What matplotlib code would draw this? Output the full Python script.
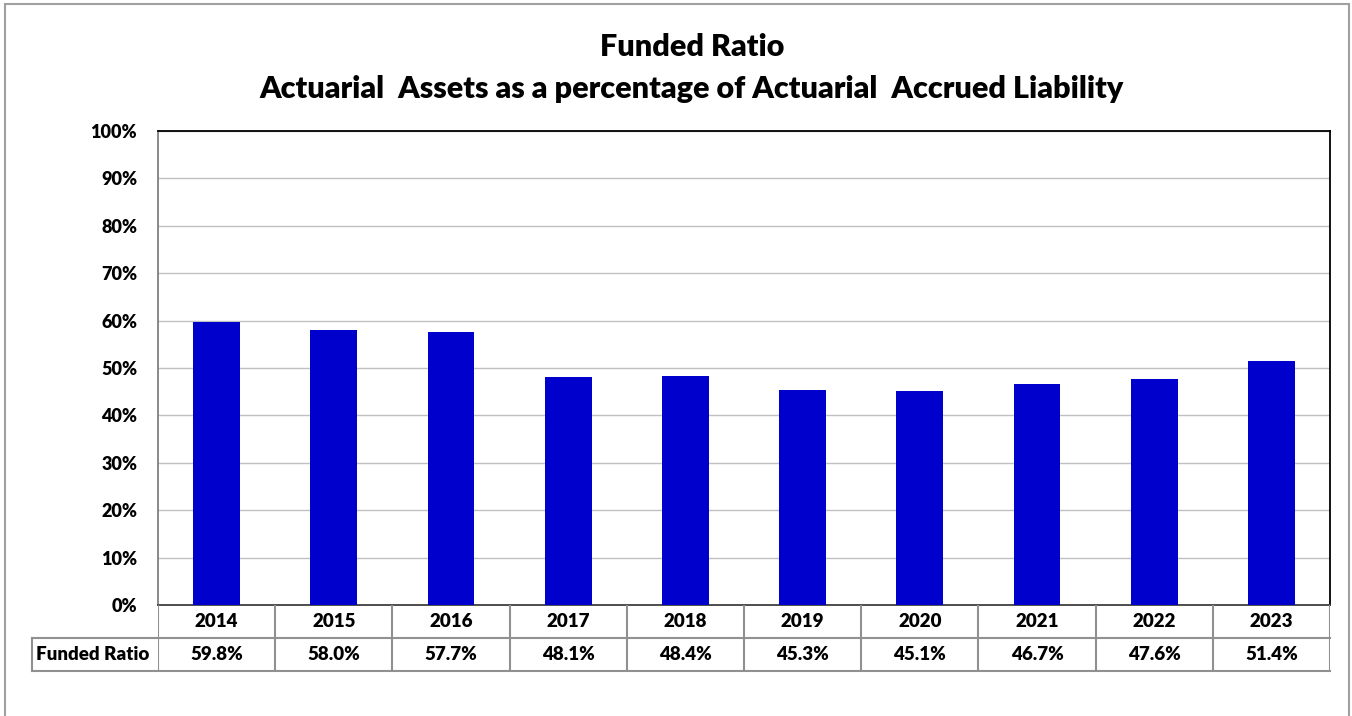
import matplotlib.pyplot as plt
from matplotlib.patches import Rectangle
from matplotlib.lines import Line2D

years = ['2014', '2015', '2016', '2017', '2018', '2019', '2020', '2021', '2022', '2023']
funded_ratio = [59.8, 58.0, 57.7, 48.1, 48.4, 45.3, 45.1, 46.7, 47.6, 51.4]
row_label = 'Funded Ratio'

plt.rcParams['font.family'] = ['Lato', 'DejaVu Sans']
WT = 'heavy'

W, H = 1352, 716
fig = plt.figure(figsize=(W / 100, H / 100), dpi=100)

def px_box(x0, y0, x1, y1):
    return [x0 / W, 1 - y1 / H, (x1 - x0) / W, (y1 - y0) / H]

# outer chart frame
fig.patches.append(Rectangle((5 / W, -0.1), 1344 / W, 1.1 - 4 / H, transform=fig.transFigure,
                             fill=False, edgecolor='#a0a0a0', linewidth=1.5))

ax = fig.add_axes(px_box(158, 131, 1330, 605))
x = range(len(years))
ax.bar(x, funded_ratio, width=0.4, color='#0000CC', zorder=3)
ax.set_xlim(-0.5, len(years) - 0.5)
ax.set_ylim(0, 100)
ax.set_yticks(range(0, 101, 10))
ax.set_yticklabels([f'{v}%' for v in range(0, 101, 10)], fontsize=13, fontweight=WT)
ax.set_xticks([])
ax.tick_params(axis='y', length=0, pad=15)
ax.yaxis.grid(True, color='#c0c0c0', linewidth=1, zorder=0)
ax.spines['top'].set_color('black')
ax.spines['right'].set_color('black')
ax.spines['left'].set_color('#808080')
ax.spines['bottom'].set_color('#404040')
for s in ax.spines.values():
    s.set_linewidth(1.3)

fig.text(692 / W, 1 - 47 / H, 'Funded Ratio', ha='center', va='center', fontsize=22, fontweight=WT)
fig.text(692 / W, 1 - 89 / H, 'Actuarial  Assets as a percentage of Actuarial  Accrued Liability',
         ha='center', va='center', fontsize=22, fontweight=WT)

# data table under the plot
tab = fig.add_axes(px_box(158, 605, 1330, 671))
tab.set_xlim(-0.5, len(years) - 0.5)
tab.set_ylim(0, 2)
tab.axis('off')
lc = '#909090'
label_left = -0.5 - 126 / 117.2
for i, (yr, v) in enumerate(zip(years, funded_ratio)):
    tab.text(i, 1.5, yr, ha='center', va='center', fontsize=13.5, fontweight=WT)
    tab.text(i, 0.5, f'{v:.1f}%', ha='center', va='center', fontsize=13.5, fontweight=WT)
for i in range(len(years) + 1):
    tab.add_line(Line2D([i - 0.5, i - 0.5], [0, 2], color=lc, linewidth=1.5))
tab.add_line(Line2D([label_left, len(years) - 0.5], [1, 1], color=lc, linewidth=1.5, clip_on=False))
tab.add_line(Line2D([label_left, len(years) - 0.5], [0, 0], color=lc, linewidth=1.5, clip_on=False))
tab.add_line(Line2D([label_left, label_left], [0, 1], color=lc, linewidth=1.5, clip_on=False))
tab.text(label_left + 0.035, 0.5, row_label, ha='left', va='center', fontsize=13.5, fontweight=WT,
         clip_on=False)

fig.savefig('out.png', dpi=100)
